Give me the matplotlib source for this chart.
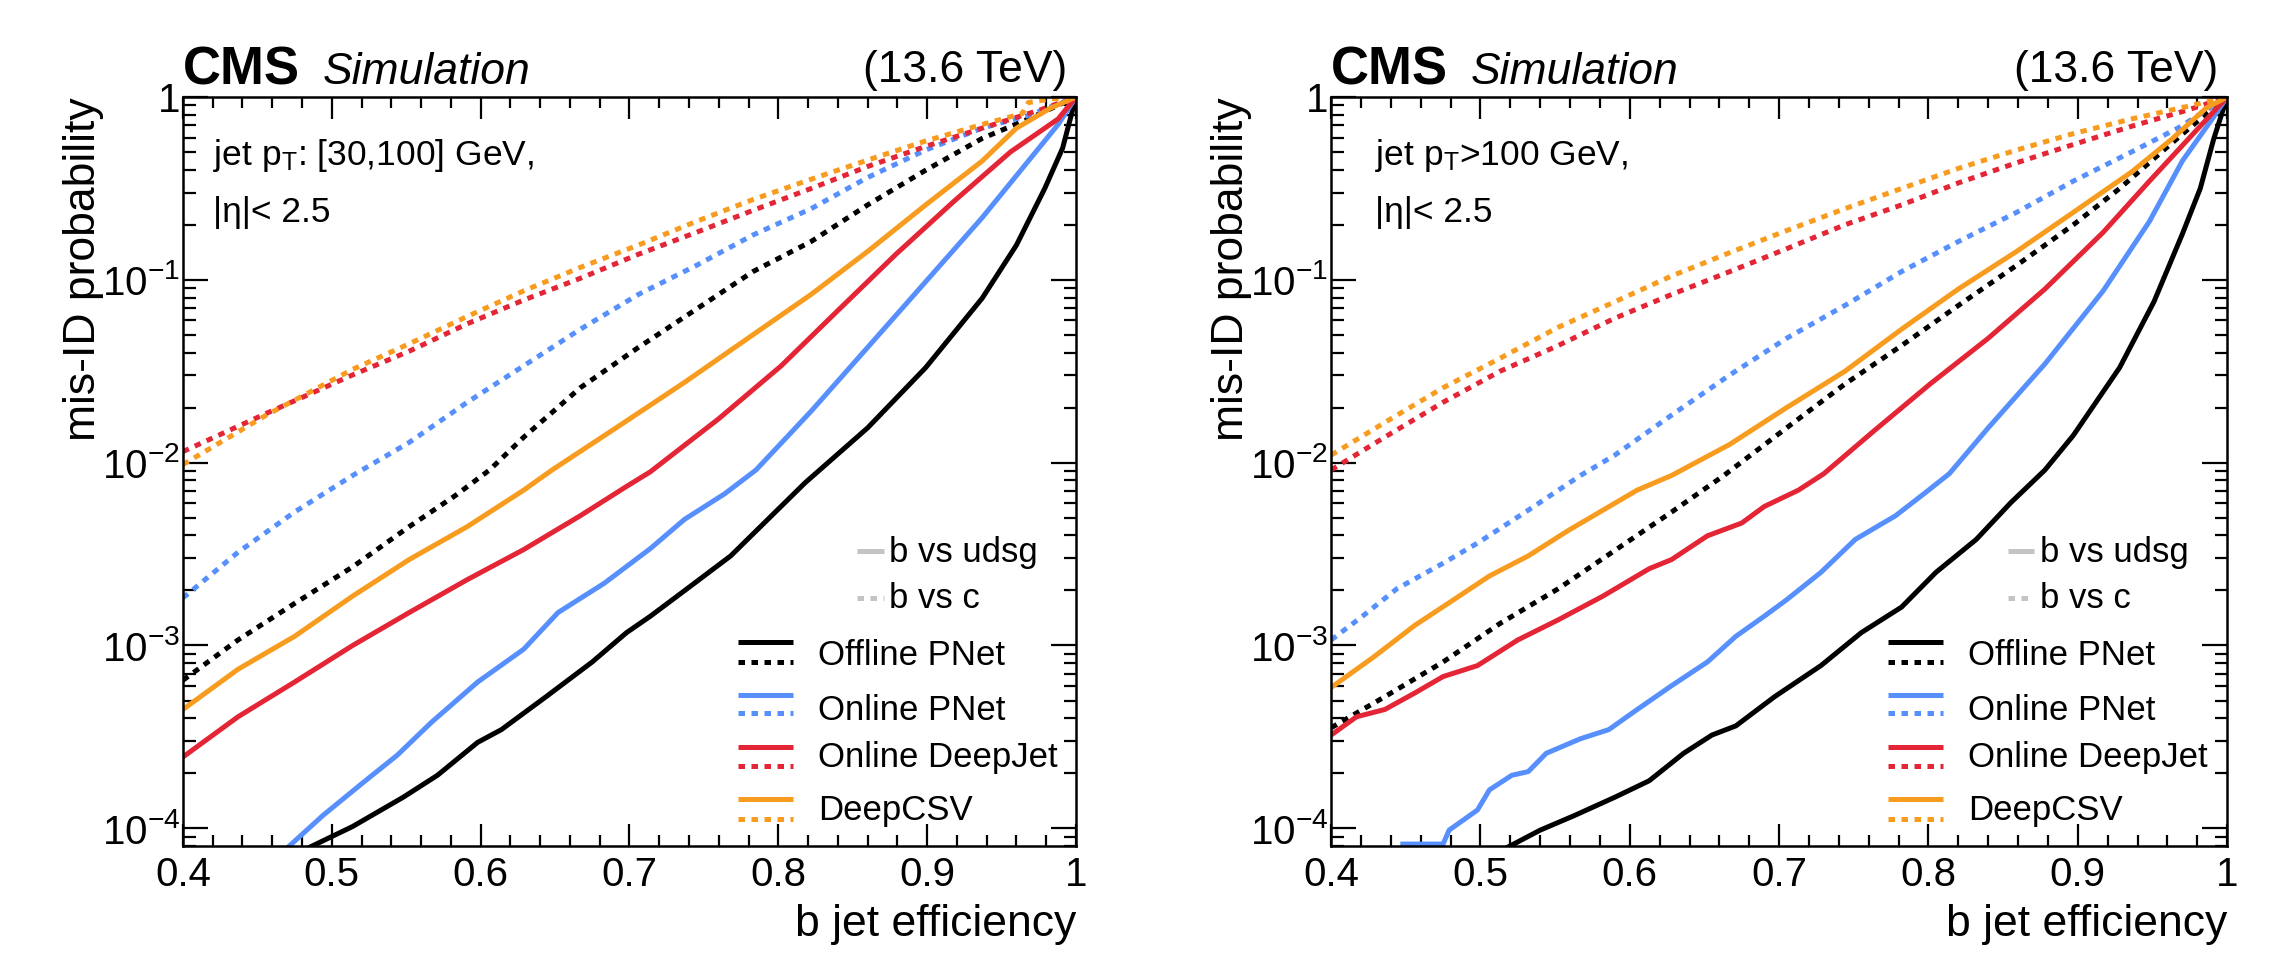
import matplotlib
matplotlib.use("Agg")
import matplotlib.pyplot as plt
import matplotlib.ticker as ticker
import numpy as np

plt.rcParams["font.family"] = ["Liberation Sans", "DejaVu Sans"]
plt.rcParams["mathtext.fontset"] = "custom"
plt.rcParams["mathtext.rm"] = "Liberation Sans"
plt.rcParams["mathtext.it"] = "Liberation Sans:italic"
plt.rcParams["mathtext.bf"] = "Liberation Sans:bold"

taggers = ["Offline PNet", "Online PNet", "Online DeepJet", "DeepCSV"]
tagger_colors = ["#000000", "#5790fc", "#e42536", "#f89c20"]
xtick_vals = [0.4, 0.5, 0.6, 0.7, 0.8, 0.9, 1.0]
xtick_labels = ["0.4", "0.5", "0.6", "0.7", "0.8", "0.9", "1"]

# ---- jet pT in [30,100] GeV ----
low_offline_l_x = [0.486, 0.514, 0.548, 0.571, 0.598, 0.614, 0.644, 0.675, 0.698, 0.714, 0.737, 0.768,
                   0.798, 0.818, 0.860, 0.899, 0.937, 0.960, 0.979, 0.991, 1.0]
low_offline_l_y = [7.94e-5, 1.023e-4, 1.479e-4, 1.95e-4, 2.951e-4, 3.467e-4, 5.248e-4, 8.128e-4, 1.175e-3,
                   1.445e-3, 1.995e-3, 3.09e-3, 5.37e-3, 7.762e-3, 0.0155, 0.0331, 0.0794, 0.155,
                   0.316, 0.525, 1.0]
low_offline_c_x = [0.4, 0.437, 0.475, 0.514, 0.552, 0.583, 0.606, 0.629, 0.667, 0.706, 0.745, 0.783, 0.822,
                   0.860, 0.899, 0.937, 0.968, 1.0]
low_offline_c_y = [6.457e-4, 1.072e-3, 1.698e-3, 2.692e-3, 4.467e-3, 6.607e-3, 9.12e-3, 0.0138, 0.0257,
                   0.0427, 0.0692, 0.111, 0.162, 0.257, 0.398, 0.594, 0.759, 1.0]

low_onpnet_l_x = [0.471, 0.494, 0.521, 0.544, 0.567, 0.598, 0.629, 0.652, 0.683, 0.714, 0.737, 0.764, 0.785,
                  0.822, 0.860, 0.899, 0.937, 0.968, 0.988, 1.0]
low_onpnet_l_y = [7.94e-5, 1.175e-4, 1.778e-4, 2.512e-4, 3.802e-4, 6.31e-4, 9.55e-4, 1.514e-3, 2.188e-3,
                  3.388e-3, 4.898e-3, 6.761e-3, 9.12e-3, 0.0191, 0.0427, 0.0977, 0.219, 0.447, 0.708, 1.0]
low_onpnet_c_x = [0.4, 0.437, 0.475, 0.514, 0.552, 0.591, 0.629, 0.667, 0.706, 0.745, 0.783, 0.822,
                  0.860, 0.899, 0.937, 0.968, 1.0]
low_onpnet_c_y = [1.82e-3, 3.236e-3, 5.37e-3, 8.511e-3, 0.0129, 0.0214, 0.0339, 0.0537, 0.0832,
                  0.120, 0.176, 0.245, 0.363, 0.513, 0.676, 0.794, 1.0]

low_deepjet_l_x = [0.4, 0.437, 0.475, 0.514, 0.552, 0.591, 0.629, 0.667, 0.698, 0.714, 0.760, 0.802, 0.841,
                   0.879, 0.918, 0.956, 0.988, 1.0]
low_deepjet_l_y = [2.455e-4, 4.074e-4, 6.31e-4, 1.0e-3, 1.514e-3, 2.291e-3, 3.35e-3, 5.129e-3, 7.413e-3,
                   8.913e-3, 0.0174, 0.0339, 0.0692, 0.138, 0.269, 0.501, 0.759, 1.0]
low_deepjet_c_x = [0.4, 0.456, 0.514, 0.552, 0.591, 0.629, 0.667, 0.706, 0.745, 0.783, 0.822, 0.860, 0.899,
                   0.937, 0.976, 1.0]
low_deepjet_c_y = [0.0115, 0.0186, 0.0302, 0.0407, 0.0575, 0.0776, 0.102, 0.138, 0.182, 0.240, 0.316, 0.417,
                   0.537, 0.676, 0.851, 1.0]

low_deepcsv_l_x = [0.4, 0.437, 0.475, 0.514, 0.552, 0.591, 0.629, 0.648, 0.691, 0.737, 0.783, 0.822, 0.860,
                   0.899, 0.937, 0.960, 0.983, 1.0]
low_deepcsv_l_y = [4.467e-4, 7.413e-4, 1.122e-3, 1.862e-3, 2.951e-3, 4.467e-3, 7.079e-3, 9.12e-3, 0.0155,
                   0.0275, 0.0501, 0.0832, 0.143, 0.257, 0.447, 0.676, 0.871, 1.0]
low_deepcsv_c_x = [0.4, 0.456, 0.514, 0.552, 0.591, 0.629, 0.667, 0.706, 0.745, 0.783, 0.822, 0.860, 0.899,
                   0.937, 0.964, 0.968, 0.983, 1.0]
low_deepcsv_c_y = [9.77e-3, 0.0182, 0.0324, 0.0447, 0.0631, 0.0871, 0.117, 0.155, 0.209, 0.275, 0.355, 0.452,
                   0.575, 0.708, 0.813, 0.933, 0.977, 1.0]

# ---- jet pT > 100 GeV ----
high_offline_l_x = [0.519, 0.540, 0.563, 0.590, 0.613, 0.636, 0.655, 0.671, 0.697, 0.728, 0.755, 0.782, 0.805,
                    0.832, 0.855, 0.878, 0.897, 0.928, 0.951, 0.970, 0.982, 0.991, 1.0]
high_offline_l_y = [7.94e-5, 9.77e-5, 1.175e-4, 1.479e-4, 1.82e-4, 2.57e-4, 3.236e-4, 3.631e-4, 5.248e-4,
                    7.762e-4, 1.175e-3, 1.622e-3, 2.512e-3, 3.802e-3, 6.026e-3, 9.12e-3, 0.0141, 0.0331,
                    0.0759, 0.178, 0.316, 0.589, 1.0]
high_offline_c_x = [0.4, 0.436, 0.475, 0.513, 0.552, 0.590, 0.628, 0.663, 0.705, 0.744, 0.782, 0.820, 0.859,
                    0.897, 0.928, 0.959, 0.982, 1.0]
high_offline_c_y = [3.548e-4, 5.248e-4, 8.128e-4, 1.318e-3, 2.042e-3, 3.311e-3, 5.37e-3, 8.511e-3, 0.0155,
                    0.0269, 0.0437, 0.0724, 0.120, 0.200, 0.316, 0.525, 0.759, 1.0]

high_onpnet_l_x = [0.448, 0.475, 0.479, 0.498, 0.506, 0.521, 0.532, 0.544, 0.567, 0.586, 0.605, 0.628, 0.652,
                   0.671, 0.690, 0.705, 0.728, 0.751, 0.778, 0.797, 0.814, 0.840, 0.878, 0.917, 0.948, 0.970,
                   0.990, 1.0]
high_onpnet_l_y = [8.2e-5, 8.2e-5, 9.77e-5, 1.259e-4, 1.622e-4, 1.95e-4, 2.042e-4, 2.57e-4, 3.09e-4, 3.467e-4,
                   4.467e-4, 6.026e-4, 8.128e-4, 1.122e-3, 1.445e-3, 1.778e-3, 2.512e-3, 3.802e-3, 5.129e-3,
                   6.761e-3, 8.71e-3, 0.0155, 0.0347, 0.0871, 0.209, 0.447, 0.759, 1.0]
high_onpnet_c_x = [0.4, 0.421, 0.444, 0.475, 0.498, 0.532, 0.567, 0.590, 0.628, 0.667, 0.705, 0.744, 0.782,
                   0.820, 0.859, 0.897, 0.936, 0.967, 1.0]
high_onpnet_c_y = [1.072e-3, 1.445e-3, 2.042e-3, 2.818e-3, 3.631e-3, 5.495e-3, 8.511e-3, 0.0110, 0.0182,
                   0.0302, 0.0479, 0.0724, 0.111, 0.162, 0.234, 0.347, 0.501, 0.676, 1.0]

high_deepjet_l_x = [0.4, 0.417, 0.436, 0.456, 0.475, 0.498, 0.525, 0.552, 0.582, 0.613, 0.628, 0.652, 0.675,
                    0.690, 0.713, 0.730, 0.763, 0.801, 0.840, 0.878, 0.917, 0.948, 0.974, 1.0]
high_deepjet_l_y = [3.236e-4, 4.074e-4, 4.467e-4, 5.495e-4, 6.761e-4, 7.762e-4, 1.072e-3, 1.38e-3, 1.862e-3,
                    2.63e-3, 2.951e-3, 3.981e-3, 4.677e-3, 5.754e-3, 7.079e-3, 8.71e-3, 0.0148, 0.0269,
                    0.0479, 0.0891, 0.182, 0.347, 0.589, 1.0]
high_deepjet_c_x = [0.4, 0.436, 0.475, 0.513, 0.552, 0.590, 0.628, 0.667, 0.705, 0.744, 0.782, 0.820, 0.859,
                    0.897, 0.936, 0.974, 1.0]
high_deepjet_c_y = [9.12e-3, 0.0138, 0.0214, 0.0316, 0.0437, 0.0617, 0.0832, 0.111, 0.148, 0.200, 0.257,
                    0.339, 0.437, 0.550, 0.692, 0.851, 1.0]

high_deepcsv_l_x = [0.4, 0.429, 0.456, 0.482, 0.506, 0.532, 0.559, 0.582, 0.605, 0.628, 0.667, 0.705, 0.744,
                    0.782, 0.820, 0.859, 0.897, 0.936, 0.963, 0.986, 1.0]
high_deepcsv_l_y = [5.888e-4, 8.71e-4, 1.288e-3, 1.778e-3, 2.399e-3, 3.09e-3, 4.266e-3, 5.495e-3, 7.079e-3,
                    8.511e-3, 0.0126, 0.0200, 0.0316, 0.0537, 0.0891, 0.143, 0.234, 0.389, 0.589, 0.871, 1.0]
high_deepcsv_c_x = [0.4, 0.436, 0.475, 0.513, 0.552, 0.590, 0.628, 0.667, 0.705, 0.744, 0.782, 0.820, 0.859,
                    0.897, 0.936, 0.974, 1.0]
high_deepcsv_c_y = [0.0110, 0.0166, 0.0257, 0.0372, 0.0550, 0.0759, 0.105, 0.141, 0.186, 0.245, 0.316, 0.407,
                    0.513, 0.631, 0.759, 0.891, 1.0]

low_curves = [
    (low_offline_l_x, low_offline_l_y, low_offline_c_x, low_offline_c_y),
    (low_onpnet_l_x, low_onpnet_l_y, low_onpnet_c_x, low_onpnet_c_y),
    (low_deepjet_l_x, low_deepjet_l_y, low_deepjet_c_x, low_deepjet_c_y),
    (low_deepcsv_l_x, low_deepcsv_l_y, low_deepcsv_c_x, low_deepcsv_c_y),
]
high_curves = [
    (high_offline_l_x, high_offline_l_y, high_offline_c_x, high_offline_c_y),
    (high_onpnet_l_x, high_onpnet_l_y, high_onpnet_c_x, high_onpnet_c_y),
    (high_deepjet_l_x, high_deepjet_l_y, high_deepjet_c_x, high_deepjet_c_y),
    (high_deepcsv_l_x, high_deepcsv_l_y, high_deepcsv_c_x, high_deepcsv_c_y),
]

LW = 3.6
DOT = (0, (1.3, 1.3))


def log_label(v, pos):
    e = int(round(np.log10(v)))
    return "1" if e == 0 else r"$10^{%d}$" % e


def draw_panel(ax, curves, sel_lines, text_x):
    for (xl, yl, xc, yc), col in zip(curves, tagger_colors):
        ax.plot(xc, yc, color=col, lw=LW, linestyle=DOT, dash_capstyle="butt")
    for (xl, yl, xc, yc), col in zip(curves, tagger_colors):
        ax.plot(xl, yl, color=col, lw=LW, solid_joinstyle="round")

    ax.set_yscale("log")
    ax.set_xlim(0.4, 1.0)
    ax.set_ylim(8e-5, 1.0)
    ax.set_xticks(xtick_vals)
    ax.set_xticklabels(xtick_labels)
    ax.xaxis.set_minor_locator(ticker.MultipleLocator(0.02))
    ax.yaxis.set_major_locator(ticker.LogLocator(base=10, numticks=10))
    ax.yaxis.set_minor_locator(ticker.LogLocator(base=10, subs=np.arange(2, 10), numticks=20))
    ax.yaxis.set_major_formatter(ticker.FuncFormatter(log_label))
    ax.yaxis.set_minor_formatter(ticker.NullFormatter())

    ax.tick_params(which="both", direction="in", top=True, right=True, width=1.6, labelsize=29)
    ax.tick_params(axis="x", which="major", length=16, pad=7)
    ax.tick_params(axis="x", which="minor", length=8)
    ax.tick_params(axis="y", which="major", length=18, pad=2)
    ax.tick_params(axis="y", which="minor", length=9)
    for s in ax.spines.values():
        s.set_linewidth(1.8)

    ax.set_xlabel("b jet efficiency", fontsize=32, loc="right")
    ax.xaxis.set_label_coords(1.0, -0.078)
    ax.set_ylabel("mis-ID probability", fontsize=32, loc="top")
    ax.yaxis.set_label_coords(-0.088, 1.0)

    # CMS header
    ax.text(0.0, 1.017, "CMS", transform=ax.transAxes, fontsize=38, fontweight="bold", va="baseline")
    ax.text(0.156, 1.017, "Simulation", transform=ax.transAxes, fontsize=32, style="italic", va="baseline")
    ax.text(0.99, 1.020, "(13.6 TeV)", transform=ax.transAxes, fontsize=32, ha="right", va="baseline")

    ax.text(text_x, 0.909, sel_lines[0], transform=ax.transAxes, fontsize=25.5, va="baseline")
    ax.text(text_x, 0.833, sel_lines[1], transform=ax.transAxes, fontsize=25.5, va="baseline")

    # legend: selection style
    gray = "#c4c4c4"
    ax.plot([0.755, 0.785], [0.394, 0.394], transform=ax.transAxes, color=gray, lw=LW, clip_on=False,
            solid_capstyle="butt")
    ax.plot([0.755, 0.785], [0.331, 0.331], transform=ax.transAxes, color=gray, lw=LW, clip_on=False,
            linestyle=DOT, dash_capstyle="butt")
    ax.text(0.791, 0.379, "b vs udsg", transform=ax.transAxes, fontsize=25, va="baseline")
    ax.text(0.791, 0.318, "b vs c", transform=ax.transAxes, fontsize=25, va="baseline")

    # legend: taggers
    solid_y = [0.272, 0.202, 0.132, 0.063]
    dot_y = [0.246, 0.178, 0.107, 0.036]
    text_y = [0.242, 0.168, 0.105, 0.035]
    for name, col, sy, dy, ty in zip(taggers, tagger_colors, solid_y, dot_y, text_y):
        ax.plot([0.621, 0.683], [sy, sy], transform=ax.transAxes, color=col, lw=LW, clip_on=False,
                solid_capstyle="butt")
        ax.plot([0.621, 0.683], [dy, dy], transform=ax.transAxes, color=col, lw=LW, clip_on=False,
                linestyle=DOT, dash_capstyle="butt")
        ax.text(0.711, ty, name, transform=ax.transAxes, fontsize=25, va="baseline")


fig = plt.figure(figsize=(22.84, 9.58), dpi=100)
ax1 = fig.add_axes([0.0801, 0.1169, 0.3910, 0.7818])
ax2 = fig.add_axes([0.5828, 0.1169, 0.3923, 0.7818])

draw_panel(ax1, low_curves, [r"jet p$_{\mathregular{T}}$: [30,100] GeV,", "|η|< 2.5"], 0.034)
draw_panel(ax2, high_curves, [r"jet p$_{\mathregular{T}}$>100 GeV,", "|η|< 2.5"], 0.049)

fig.savefig("out.png", dpi=100)
